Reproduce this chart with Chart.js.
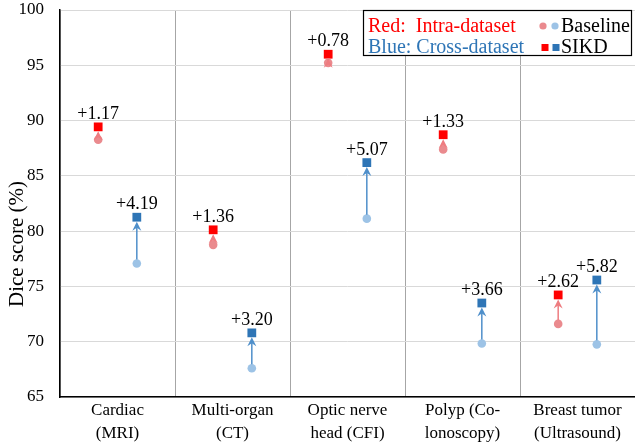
<!DOCTYPE html>
<html>
<head>
<meta charset="utf-8">
<script src="https://cdn.jsdelivr.net/npm/chart.js@4.4.1/dist/chart.umd.min.js"></script>
<style>
  html,body{margin:0;padding:0;background:#fff;overflow:hidden;}
  #wrap{width:635px;height:447px;position:relative;}
</style>
</head>
<body>
<div id="wrap"><canvas id="c"></canvas></div>
<script>
/* datos */
const categorias = [['Cardiac','(MRI)'],['Multi-organ','(CT)'],['Optic nerve','head (CFI)'],['Polyp (Co-','lonoscopy)'],['Breast tumor','(Ultrasound)']];
const intraBase  = [88.26, 78.76, 95.22, 87.39, 71.61];
const intraSikd  = [89.43, 80.12, 96.00, 88.72, 74.23];
const intraGain  = ['+1.17','+1.36','+0.78','+1.33','+2.62'];
const crossBase  = [77.07, 67.60, 81.13, 69.84, 69.76];
const crossSikd  = [81.26, 70.80, 86.20, 73.50, 75.58];
const crossGain  = ['+4.19','+3.20','+5.07','+3.66','+5.82'];
const yTicks     = [65,70,75,80,85,90,95,100];

const SERIF = '"Liberation Serif", "Times New Roman", serif';
const RED = '#ff0000', RED_L = '#ea8a8e', RED_A = '#ee7c80';
const BLUE = '#2e75b6', BLUE_L = '#9dc3e6', BLUE_A = '#4f8fca';
const OFF = 0.168;   // desplazamiento intra / cross dentro de cada categoría

const pts = (arr, dx) => arr.map((v,i)=>({x:i+dx, y:v}));

/*** flechas + etiquetas ***/
const arrows = {
  id:'arrows',
  afterDatasetsDraw(chart){
    const {ctx, scales:{x2, y}} = chart;
    const pairs = [
      {base:intraBase, top:intraSikd, gain:intraGain, dx:-OFF, col:RED_A},
      {base:crossBase, top:crossSikd, gain:crossGain, dx: OFF, col:BLUE_A}
    ];
    ctx.save();
    pairs.forEach(p=>{
      p.base.forEach((b,i)=>{
        const px = x2.getPixelForValue(i+p.dx);
        const y0 = y.getPixelForValue(b) - 4;
        const y1 = y.getPixelForValue(p.top[i]) + 4.5;
        ctx.strokeStyle = p.col; ctx.fillStyle = p.col; ctx.lineWidth = 1.5;
        ctx.beginPath(); ctx.moveTo(px,y0); ctx.lineTo(px,y1+5); ctx.stroke();
        // punta tipo stealth
        ctx.beginPath();
        ctx.moveTo(px, y1);
        ctx.lineTo(px+4.5, y1+9);
        ctx.lineTo(px, y1+6);
        ctx.lineTo(px-4.5, y1+9);
        ctx.closePath(); ctx.fill();
        // etiqueta
        const ys = y.getPixelForValue(p.top[i]);
        ctx.fillStyle = '#000';
        ctx.font = '18px ' + SERIF;
        ctx.textAlign = 'center'; ctx.textBaseline = 'alphabetic';
        ctx.fillText(p.gain[i], px, ys - 8);
      });
    });
    ctx.restore();
  }
};

/*** título eje Y y leyenda dibujados a mano ***/
const extras = {
  id:'extras',
  afterDraw(chart){
    const ctx = chart.ctx;
    ctx.save();
    // título del eje
    ctx.save();
    ctx.translate(17, 244); ctx.rotate(-Math.PI/2);
    ctx.font = '21px ' + SERIF; ctx.fillStyle = '#000';
    ctx.textAlign = 'center'; ctx.textBaseline = 'middle';
    ctx.fillText('Dice score (%)', 0, 0);
    ctx.restore();
    // leyenda
    ctx.fillStyle = '#fff';
    ctx.fillRect(363, 10, 269, 46);
    ctx.strokeStyle = '#000'; ctx.lineWidth = 1.2;
    ctx.strokeRect(363.5, 10.5, 268, 45);
    ctx.font = '20px ' + SERIF;
    ctx.textAlign = 'left'; ctx.textBaseline = 'middle';
    ctx.fillStyle = RED;  ctx.fillText('Red:  Intra-dataset', 368, 26.5);
    ctx.fillStyle = BLUE; ctx.fillText('Blue: Cross-dataset', 368, 48);
    ctx.fillStyle = RED_L;  ctx.beginPath(); ctx.arc(543,26,3.6,0,Math.PI*2); ctx.fill();
    ctx.fillStyle = BLUE_L; ctx.beginPath(); ctx.arc(555,26,3.6,0,Math.PI*2); ctx.fill();
    ctx.fillStyle = RED;  ctx.fillRect(541.5,44,7,7);
    ctx.fillStyle = BLUE; ctx.fillRect(552.5,44,7,7);
    ctx.fillStyle = '#000';
    ctx.fillText('Baseline', 561, 26.5);
    ctx.fillText('SIKD', 561, 48);
    ctx.restore();
  }
};

new Chart('c', {
  type:'scatter',
  data:{
    labels: categorias,
    datasets:[
      {data:pts(intraBase,-OFF), xAxisID:'x2', backgroundColor:RED_L,  pointStyle:'circle', pointRadius:4.3, borderWidth:0},
      {data:pts(crossBase, OFF), xAxisID:'x2', backgroundColor:BLUE_L, pointStyle:'circle', pointRadius:4.3, borderWidth:0},
      {data:pts(intraSikd,-OFF), xAxisID:'x2', backgroundColor:RED,    pointStyle:'rect',   pointRadius:6.2, borderWidth:0},
      {data:pts(crossSikd, OFF), xAxisID:'x2', backgroundColor:BLUE,   pointStyle:'rect',   pointRadius:6.2, borderWidth:0}
    ]
  },
  options:{
    responsive:true, maintainAspectRatio:false, animation:false,
    layout:{autoPadding:false, padding:{top:0, left:0, bottom:0, right:-3}},
    plugins:{legend:{display:false}, tooltip:{enabled:false}},
    scales:{
      x:{
        type:'category', labels:categorias, offset:true, position:'bottom',
        grid:{offset:true, color:'#a6a6a6', lineWidth:1, drawTicks:false},
        border:{color:'#000', width:1.5},
        ticks:{color:'#000', font:{family:SERIF, size:17, lineHeight:1.35}, padding:2, maxRotation:0, autoSkip:false},
        afterFit(s){ s.height = 50; s.paddingLeft = 0; s.paddingRight = 0; }
      },
      x2:{type:'linear', display:false, min:-0.5, max:4.5},
      y:{
        min:65, max:100,
        afterBuildTicks(s){ s.ticks = yTicks.map(v=>({value:v})); },
        grid:{color:'#d9d9d9', lineWidth:1, drawTicks:false},
        border:{color:'#000', width:1.5},
        ticks:{color:'#000', font:{family:SERIF, size:17}, padding:16},
        afterFit(s){ s.width = 60; s.paddingTop = 10; s.paddingBottom = 0; }
      }
    }
  },
  plugins:[arrows, extras]
});
</script>
</body>
</html>
